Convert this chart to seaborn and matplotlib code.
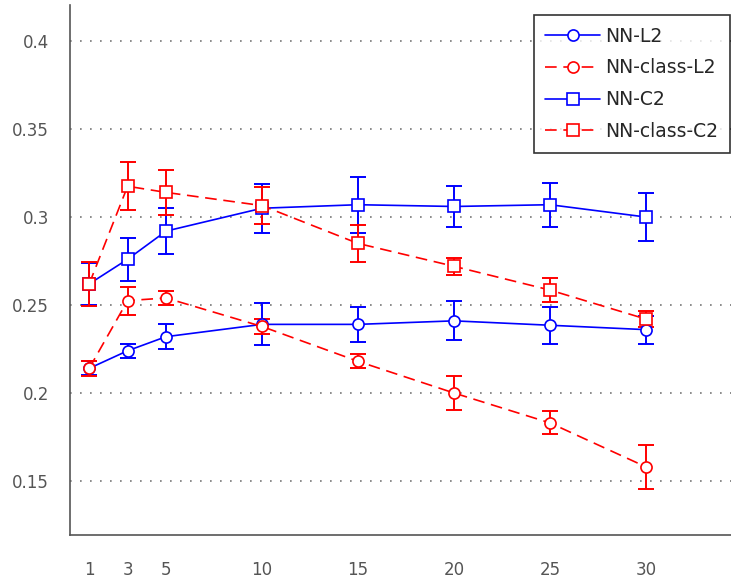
import numpy as np
import pandas as pd
import matplotlib
matplotlib.use("Agg")
import matplotlib.pyplot as plt
import seaborn as sns

# ====== DATA ======
k = [1, 3, 5, 10, 15, 20, 25, 30]

nn_l2 = [0.214, 0.224, 0.232, 0.239, 0.239, 0.241, 0.2385, 0.236]
nn_l2_err = [0.004, 0.004, 0.007, 0.012, 0.010, 0.011, 0.0105, 0.008]

nn_class_l2 = [0.214, 0.2525, 0.254, 0.2378, 0.218, 0.200, 0.183, 0.158]
nn_class_l2_err = [0.0043, 0.008, 0.004, 0.0043, 0.004, 0.0095, 0.0065, 0.0125]

nn_c2 = [0.262, 0.276, 0.292, 0.305, 0.307, 0.306, 0.307, 0.300]
nn_c2_err = [0.012, 0.0123, 0.013, 0.014, 0.016, 0.0115, 0.0125, 0.0135]

nn_class_c2 = [0.262, 0.3175, 0.314, 0.3065, 0.285, 0.272, 0.2585, 0.242]
nn_class_c2_err = [0.0123, 0.0135, 0.013, 0.0105, 0.0105, 0.005, 0.007, 0.0044]

labels = ["NN-L2", "NN-class-L2", "NN-C2", "NN-class-C2"]
y_ticks = [0.15, 0.2, 0.25, 0.3, 0.35, 0.4]
y_tick_labels = ["0.15", "0.2", "0.25", "0.3", "0.35", "0.4"]

series = [nn_l2, nn_class_l2, nn_c2, nn_class_c2]
errors = [nn_l2_err, nn_class_l2_err, nn_c2_err, nn_class_c2_err]
colors = ["#0000ff", "#ff0000", "#0000ff", "#ff0000"]
markers = ["o", "o", "s", "s"]
styles = ["-", (0, (7, 4)), "-", (0, (7, 4))]

# ====== PLOT ======
sns.set_style("white")
plt.rcParams['font.family'] = ['DejaVu Sans']

fig = plt.figure(figsize=(7.31, 5.8), dpi=100)
ax = fig.add_axes([70 / 731, 45 / 580, 672 / 731, 530 / 580])

for name, vals, err, c, m, ls in zip(labels, series, errors, colors, markers, styles):
    df = pd.DataFrame({"k": k, "val": vals})
    ax.errorbar(k, vals, yerr=err, fmt="none", ecolor=c, elinewidth=1.4,
                capsize=6, capthick=1.4, zorder=2)
    sns.lineplot(data=df, x="k", y="val", ax=ax, color=c, marker=m,
                 linestyle=ls, linewidth=1.2, markersize=8,
                 markerfacecolor="white", markeredgecolor=c,
                 markeredgewidth=1.2, label=name, zorder=3)

ax.set_xlim(0, 35)
ax.set_ylim(0.1193, 0.4205)
ax.set_xticks(k)
ax.set_yticks(y_ticks)
ax.set_yticklabels(y_tick_labels)
ax.set_xlabel("")
ax.set_ylabel("")

for side in ["top", "right"]:
    ax.spines[side].set_visible(False)
for side in ["left", "bottom"]:
    ax.spines[side].set_color("#555555")
    ax.spines[side].set_linewidth(1.2)

ax.tick_params(axis="both", direction="out", length=10, width=1.2,
               color="#555555", labelcolor="#555555", labelsize=12, pad=5)
ax.tick_params(axis="x", pad=9)
ax.yaxis.grid(True, linestyle=(0, (1, 5)), color="#777777", linewidth=1.2)
ax.xaxis.grid(False)

leg = ax.legend(loc="upper right", bbox_to_anchor=(730 / 731, 1 - 15 / 580),
                bbox_transform=fig.transFigure, fontsize=13.5, handlelength=2.9,
                handletextpad=0.3, frameon=True, fancybox=False, borderaxespad=0,
                labelspacing=0.68, borderpad=0.62)
leg.get_frame().set_edgecolor("black")
leg.get_frame().set_linewidth(1.2)

fig.savefig("out.png", dpi=100)
